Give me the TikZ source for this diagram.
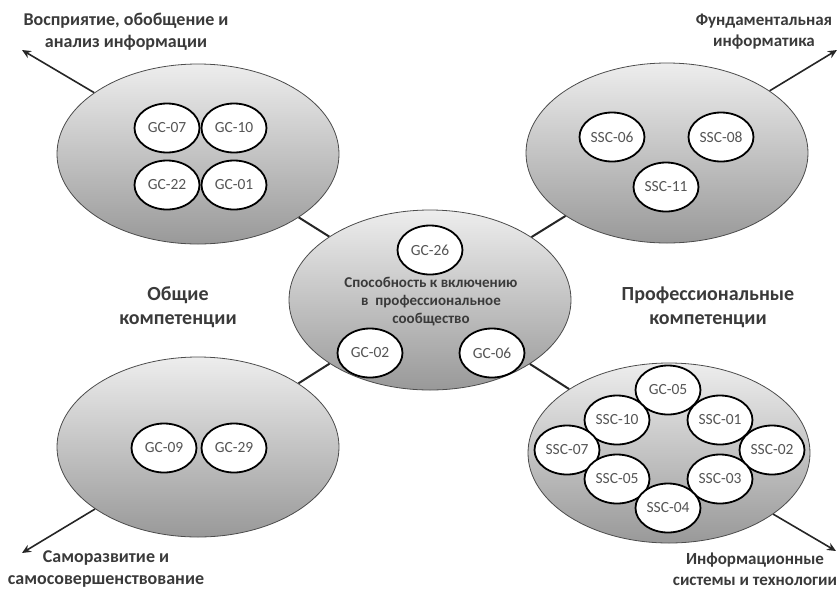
\documentclass[tikz,border=0pt]{standalone}
\usepackage{fontspec}
\setmainfont{Carlito}
\usetikzlibrary{arrows.meta,shapes.geometric}
\definecolor{txt}{HTML}{3A3A3A}
\definecolor{stxt}{HTML}{555555}
\begin{document}
\begin{tikzpicture}[x=1pt,y=-1pt,
  big/.style={ellipse, draw=black!70, line width=0.8pt, top color=black!7, bottom color=black!40,
    minimum width=282pt, minimum height=180pt, inner sep=0pt},
  small/.style={ellipse, draw=black, line width=1.8pt, fill=white,
    minimum width=65pt, minimum height=49pt, inner sep=0pt,
    font=\fontsize{15.5}{17}\selectfont, text=stxt},
  conn/.style={line width=2pt, draw=black!85},
  arr/.style={line width=1.6pt, draw=black!85, -{Stealth[length=9pt,width=8pt]}},
  lab/.style={font=\bfseries\fontsize{18}{22}\selectfont, text=txt, align=center},
  rlab/.style={font=\bfseries\fontsize{17}{21}\selectfont, text=txt, align=center},
  biglab/.style={font=\bfseries\fontsize{20}{24}\selectfont, text=txt, align=center},
  cenlab/.style={font=\bfseries\fontsize{15}{18}\selectfont, text=txt, align=center}]
\useasboundingbox (0,0) rectangle (839,590);

% big ellipses
\node[big] (tl) at (198,154) {};
\node[big] (tr) at (667,153) {};
\node[big] (c)  at (430,300) {};
\node[big] (bl) at (198,447) {};
\node[big] (br) at (669,453) {};

% connectors
\draw[conn] (tl) -- (c);
\draw[conn] (tr) -- (c);
\draw[conn] (bl) -- (c);
\draw[conn] (br) -- (c);

% arrow ends
\coordinate (atl) at (22,50);
\coordinate (atr) at (837,50);
\coordinate (abl) at (22,553);
\coordinate (abr) at (836,551);
\draw[arr] (tl) -- (atl);
\draw[arr] (tr) -- (atr);
\draw[arr] (bl) -- (abl);
\draw[arr] (br) -- (abr);

% top-left group
\node[small] (gc07) at (167,128) {GC-07};
\node[small] (gc10) at (234,128) {GC-10};
\node[small] (gc22) at (167,185) {GC-22};
\node[small] (gc01) at (234,185) {GC-01};

% top-right group
\node[small] (ssc06) at (612,137) {SSC-06};
\node[small] (ssc08) at (721,137) {SSC-08};
\node[small] (ssc11) at (666,187) {SSC-11};

% centre group
\node[small] (gc26) at (430,250) {GC-26};
\node[small] (gc02) at (370,353) {GC-02};
\node[small] (gc06) at (492,353) {GC-06};
\node[cenlab] (ctext) at (431,302) {Способность к включению\\в\ \ профессиональное\\сообщество};

% bottom-left group
\node[small] (gc09) at (164,448) {GC-09};
\node[small] (gc29) at (234,448) {GC-29};

% bottom-right group
\node[small] (gc05)  at (668,390) {GC-05};
\node[small] (ssc10) at (617,420) {SSC-10};
\node[small] (ssc01) at (720,420) {SSC-01};
\node[small] (ssc07) at (567,450) {SSC-07};
\node[small] (ssc02) at (772,450) {SSC-02};
\node[small] (ssc05) at (617,479) {SSC-05};
\node[small] (ssc03) at (720,479) {SSC-03};
\node[small] (ssc04) at (668,508) {SSC-04};

% labels
\node[lab] (ltl) at (126,32) {Восприятие, обобщение и\\анализ информации};
\node[rlab] (ltr) at (764,32) {Фундаментальная\\информатика};
\node[lab] (lbl) at (106,569) {Саморазвитие и\\самосовершенствование};
\node[rlab] (lbr) at (755,569) {Информационные\\системы и технологии};
\node[biglab] (lg) at (178,307) {Общие\\компетенции};
\node[biglab] (lp) at (708,307) {Профессиональные\\компетенции};
\end{tikzpicture}
\end{document}
